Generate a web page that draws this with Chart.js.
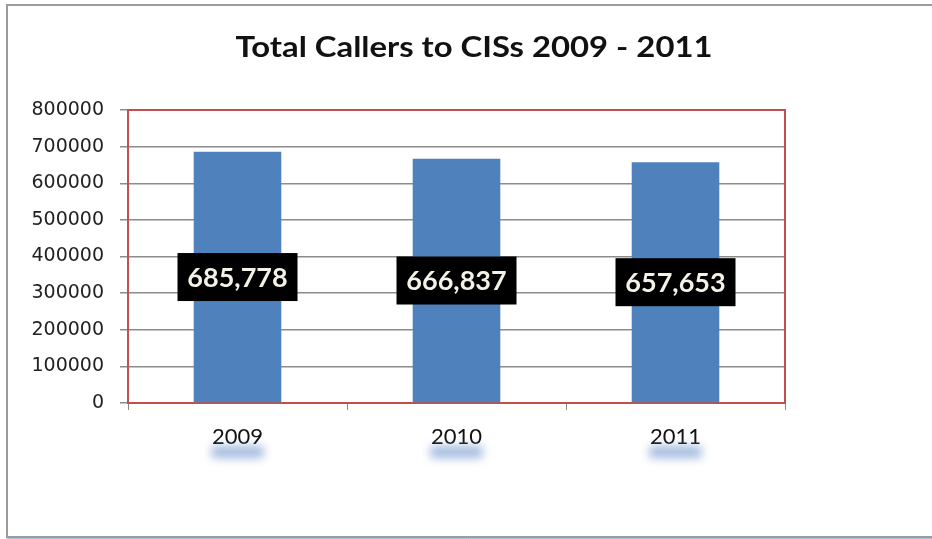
<!DOCTYPE html>
<html>
<head>
<meta charset="utf-8">
<script src="https://cdn.jsdelivr.net/npm/chart.js@4.4.1/dist/chart.umd.min.js"></script>
<style>
  html, body { margin: 0; padding: 0; background: #fff; }
  #wrap { width: 932px; height: 539px; position: relative; }
</style>
</head>
<body>
<div id="wrap"><canvas id="c" width="932" height="539"></canvas></div>
<script>
const titleText = "Total Callers to CISs 2009 - 2011";
const years = ["2009", "2010", "2011"];
const callers = [685778, 666837, 657653];
const yTicks = [0, 100000, 200000, 300000, 400000, 500000, 600000, 700000, 800000];

// outer frame + title
const framePlugin = {
    id: "frame",
    beforeDraw(chart) {
        const ctx = chart.ctx;
        ctx.save();
        ctx.fillStyle = "#fff";
        ctx.fillRect(0, 0, chart.width, chart.height);
        ctx.strokeStyle = "#9c9c9c";
        ctx.lineWidth = 2;
        ctx.beginPath();
        ctx.moveTo(932, 5);
        ctx.lineTo(7, 5);
        ctx.lineTo(7, 537);
        ctx.lineTo(932, 537);
        ctx.stroke();
        ctx.strokeStyle = "#a9c3dc";
        ctx.lineWidth = 1;
        ctx.beginPath();
        ctx.moveTo(7, 538.5);
        ctx.lineTo(932, 538.5);
        ctx.stroke();

        // title, stretched a little to the reference width
        ctx.fillStyle = "#111";
        ctx.font = "bold 29px Lato";
        ctx.textAlign = "center";
        ctx.textBaseline = "middle";
        const w = ctx.measureText(titleText).width;
        ctx.translate(474, 48);
        ctx.scale(477 / w, 1);
        ctx.fillText(titleText, 0, 0);
        ctx.restore();
    }
};

// red plot border, drawn under the bars
const plotBorder = {
    id: "plotBorder",
    beforeDatasetsDraw(chart) {
        const a = chart.chartArea;
        const ctx = chart.ctx;
        ctx.save();
        ctx.strokeStyle = "#c0504d";
        ctx.lineWidth = 2;
        ctx.strokeRect(a.left, a.top, a.right - a.left, a.bottom - a.top);

        // soft blue glow under the year labels
        const xs = chart.scales.x;
        ctx.filter = "blur(5px)";
        ctx.fillStyle = "rgba(100,140,200,0.6)";
        years.forEach((y, i) => {
            const px = xs.getPixelForTick(i);
            ctx.fillRect(px - 26, 446, 52, 12);
        });
        ctx.restore();
    }
};

// black value boxes in the middle of each bar
const valueBoxes = {
    id: "valueBoxes",
    afterDatasetsDraw(chart) {
        const ctx = chart.ctx;
        const meta = chart.getDatasetMeta(0);
        ctx.save();
        meta.data.forEach((bar, i) => {
            const cy = (bar.y + bar.base) / 2;
            ctx.fillStyle = "#000";
            ctx.fillRect(bar.x - 60, cy - 24, 120, 48);
            ctx.fillStyle = "#f4f1e6";
            ctx.font = "bold 27px Lato";
            ctx.textAlign = "center";
            ctx.textBaseline = "middle";
            ctx.fillText(callers[i].toLocaleString("en-US"), bar.x, cy + 1);
        });
        ctx.restore();
    }
};

new Chart(document.getElementById("c"), {
    type: "bar",
    data: {
        labels: years,
        datasets: [{
            data: callers,
            backgroundColor: "#4f81bd",
            barPercentage: 0.5,
            categoryPercentage: 0.8
        }]
    },
    options: {
        responsive: false,
        animation: false,
        layout: { padding: { top: 110, right: 147, bottom: 0, left: 0 } },
        plugins: {
            legend: { display: false },
            title: { display: false },
            tooltip: { enabled: false }
        },
        scales: {
            x: {
                afterFit(s) { s.height = 136; },
                border: { display: false },
                grid: {
                    offset: true,
                    drawOnChartArea: false,
                    tickLength: 7,
                    color: "#8a8a8a"
                },
                ticks: {
                    font: { family: "Lato", size: 22 },
                    color: "#111",
                    padding: 14,
                    showLabelBackdrop: true,
                    backdropColor: "#fff",
                    backdropPadding: 3
                }
            },
            y: {
                min: 0,
                max: 800000,
                afterFit(s) { s.width = 128; },
                afterBuildTicks(s) { s.ticks = yTicks.map(v => ({ value: v })); },
                border: { display: false },
                grid: {
                    color: "#8c8c8c",
                    lineWidth: 1.5,
                    tickLength: 8
                },
                ticks: {
                    font: { family: "DejaVu Sans", size: 19 },
                    color: "#222",
                    padding: 16,
                    callback: v => String(v)
                }
            }
        }
    },
    plugins: [framePlugin, plotBorder, valueBoxes]
});
</script>
</body>
</html>
